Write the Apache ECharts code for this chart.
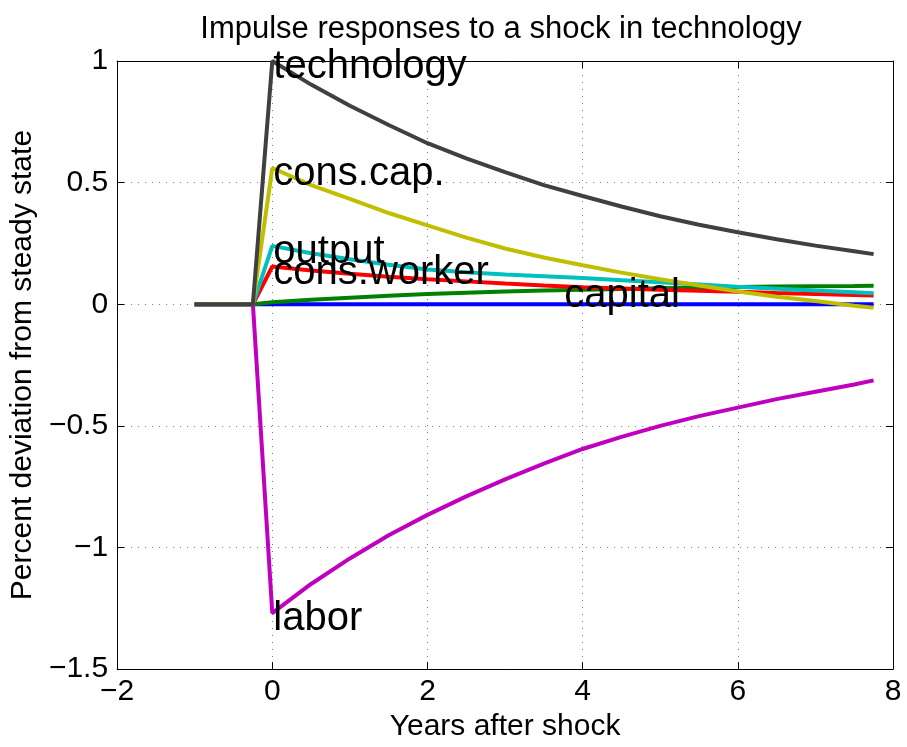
<!DOCTYPE html>
<html>
<head>
<meta charset="utf-8">
<script src="https://cdn.jsdelivr.net/npm/echarts@6/dist/echarts.min.js"></script>
<style>
  html, body { margin: 0; padding: 0; background: #fff; }
  #chart { width: 907px; height: 747px; }
</style>
</head>
<body>
<div id="chart"></div>
<script>
// years after shock (quarter before, then half-year steps)
var years = [-1, -0.25, 0, 0.5, 1, 1.5, 2, 2.5, 3, 3.5, 4, 4.5, 5, 5.5, 6, 6.5, 7, 7.5, 7.75]

var technology = [0, 0, 1, 0.903, 0.816, 0.737, 0.662, 0.600, 0.543, 0.490, 0.445, 0.402, 0.362, 0.327, 0.296, 0.267, 0.241, 0.218, 0.206]
var consCap = [0, 0, 0.56, 0.49, 0.433, 0.375, 0.324, 0.274, 0.229, 0.192, 0.16, 0.13, 0.103, 0.077, 0.052, 0.031, 0.013, -0.006, -0.014]
var output = [0, 0, 0.24, 0.21, 0.185, 0.162, 0.143, 0.132, 0.122, 0.115, 0.108, 0.099, 0.09, 0.081, 0.072, 0.064, 0.056, 0.049, 0.045]
var consWorker = [0, 0, 0.155, 0.139, 0.125, 0.113, 0.103, 0.094, 0.085, 0.077, 0.07, 0.065, 0.06, 0.055, 0.051, 0.046, 0.042, 0.038, 0.036]
var capital = [0, 0, 0.008, 0.018, 0.027, 0.035, 0.042, 0.047, 0.052, 0.056, 0.06, 0.063, 0.066, 0.069, 0.071, 0.073, 0.074, 0.075, 0.076]
var baseline = [0, 0, 0, 0, 0, 0, 0, 0, 0, 0, 0, 0, 0, 0, 0, 0, 0, 0, 0]
var labor = [0, 0, -1.27, -1.15, -1.045, -0.95, -0.866, -0.79, -0.72, -0.655, -0.595, -0.545, -0.50, -0.46, -0.425, -0.39, -0.36, -0.33, -0.313]

// text annotations: [name, x, y]
var labels = [
  ['technology', 0, 1],
  ['cons.cap.', 0, 0.56],
  ['output', 0, 0.24],
  ['cons.worker', 0, 0.155],
  ['capital', 3.75, 0.058],
  ['labor', 0, -1.27]
]

var xTicks = { min: -2, max: 8, interval: 2 }
var yTicks = { min: -1.5, max: 1, interval: 0.5 }

var font = "'Liberation Sans', Arial, sans-serif"

function pairs (ys) {
  return years.map(function (x, i) { return [x, ys[i]] })
}
function minus (v) {
  return String(v).replace('-', '\u2212')
}
function line (name, ys, color) {
  return {
    name: name,
    type: 'line',
    data: pairs(ys),
    showSymbol: false,
    symbol: 'none',
    lineStyle: { color: color, width: 4 },
    itemStyle: { color: color }
  }
}

var myChart = echarts.init(document.getElementById('chart'))
myChart.setOption({
  animation: false,
  backgroundColor: '#fff',
  textStyle: { fontFamily: font },
  title: {
    text: 'Impulse responses to a shock in technology',
    left: 496,
    top: 9,
    textAlign: 'center',
    textStyle: { fontFamily: font, fontSize: 31, fontWeight: 'normal', color: '#000' }
  },
  grid: { left: 116, right: 14, top: 61, bottom: 74 },
  xAxis: [
    {
      type: 'value',
      min: xTicks.min,
      max: xTicks.max,
      interval: xTicks.interval,
      name: 'Years after shock',
      nameLocation: 'middle',
      nameGap: 40,
      nameTextStyle: { fontFamily: font, fontSize: 30, color: '#000' },
      axisLine: { onZero: false, lineStyle: { color: '#000', width: 1 } },
      axisTick: { inside: true, length: 7, lineStyle: { color: '#000' } },
      axisLabel: { fontFamily: font, fontSize: 30, color: '#000', margin: 8, formatter: minus },
      splitLine: { show: true, lineStyle: { color: '#777', width: 1, type: [1, 6] } }
    },
    {
      type: 'value',
      position: 'top',
      min: xTicks.min,
      max: xTicks.max,
      interval: xTicks.interval,
      axisLine: { show: true, onZero: false, lineStyle: { color: '#000', width: 1 } },
      axisTick: { inside: true, length: 7, lineStyle: { color: '#000' } },
      axisLabel: { show: false },
      splitLine: { show: false }
    }
  ],
  yAxis: [
    {
      type: 'value',
      min: yTicks.min,
      max: yTicks.max,
      interval: yTicks.interval,
      name: 'Percent deviation from steady state',
      nameLocation: 'middle',
      nameGap: 76,
      nameTextStyle: { fontFamily: font, fontSize: 30, color: '#000' },
      axisLine: { show: true, onZero: false, lineStyle: { color: '#000', width: 1 } },
      axisTick: { show: true, inside: true, length: 7, lineStyle: { color: '#000' } },
      axisLabel: { fontFamily: font, fontSize: 30, color: '#000', margin: 9, formatter: minus },
      splitLine: { show: true, lineStyle: { color: '#777', width: 1, type: [1, 6] } }
    },
    {
      type: 'value',
      position: 'right',
      min: yTicks.min,
      max: yTicks.max,
      interval: yTicks.interval,
      axisLine: { show: true, onZero: false, lineStyle: { color: '#000', width: 1 } },
      axisTick: { show: true, inside: true, length: 7, lineStyle: { color: '#000' } },
      axisLabel: { show: false },
      splitLine: { show: false }
    }
  ],
  series: [
    line('baseline', baseline, '#0000ff'),
    line('capital', capital, '#008000'),
    line('cons.worker', consWorker, '#ff0000'),
    line('output', output, '#00bfbf'),
    line('labor', labor, '#bf00bf'),
    line('cons.cap.', consCap, '#bfbf00'),
    line('technology', technology, '#404040'),
    {
      name: 'labels',
      type: 'scatter',
      z: 10,
      symbolSize: 0,
      itemStyle: { color: '#000', opacity: 1 },
      data: labels.map(function (l) { return { name: l[0], value: [l[1], l[2]] } }),
      label: {
        show: true,
        position: 'right',
        distance: 1,
        offset: [0, 6],
        formatter: '{b}',
        fontFamily: font,
        fontSize: 40,
        color: '#000'
      }
    }
  ]
})
</script>
</body>
</html>
